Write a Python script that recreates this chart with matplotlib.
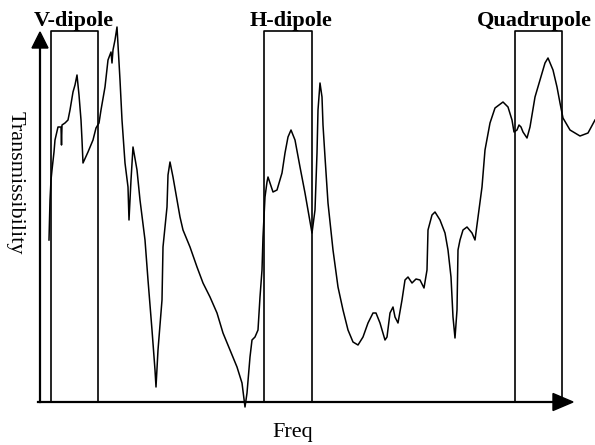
import matplotlib
matplotlib.use("Agg")
import matplotlib.pyplot as plt
import numpy as np

# traced response curve (arbitrary units)
freq = [9, 10, 11, 12, 14, 15, 18, 21, 21.5, 22, 25, 28, 30, 33, 35, 37, 39, 41, 42, 43,
        48, 53, 56, 59, 61, 65, 68, 71, 72, 73, 75, 77, 78, 80, 82, 85, 88, 89, 91, 93,
        97, 100, 105, 108, 112, 115, 116, 118, 122, 123, 127, 128, 130, 133, 140, 143,
        150, 157, 163, 170, 177, 183, 190, 197, 202, 205, 207, 210, 212, 215, 218, 220,
        222, 223, 225, 227, 228, 233, 237, 242, 245, 248, 251, 255, 260, 265, 268, 272,
        275, 277, 278, 280, 282, 283, 285, 288, 293, 298, 303, 308, 313, 318, 323, 328,
        333, 336, 340, 345, 347, 350, 353, 355, 358, 362, 365, 368, 372, 376, 380, 384,
        387, 388, 392, 395, 400, 405, 408, 411, 413, 415, 417, 418, 420, 423, 427, 432,
        435, 438, 442, 445, 450, 455, 463, 468, 472, 474, 477, 479, 481, 483, 487, 490,
        495, 500, 505, 508, 513, 517, 520, 523, 530, 540, 548, 555]
trans = [162, 202, 222, 232, 250, 262, 275, 275, 257, 277, 279, 282, 292, 310, 317, 327, 307, 282, 262, 239,
         250, 262, 274, 279, 292, 315, 342, 350, 339, 352, 362, 375, 357, 322, 282, 239, 215, 182, 222, 255,
         232, 202, 162, 122, 72, 32, 15, 52, 102, 155, 195, 227, 240, 225, 185, 172,
         155, 135, 119, 105, 89, 69, 52, 35, 19, -5, 9, 45, 62, 65, 72, 105,
         132, 165, 205, 220, 225, 210, 212, 229, 249, 265, 272, 262, 235, 209, 192, 169,
         192, 249, 292, 319, 305, 277, 245, 199, 152, 115, 92, 72, 60, 57, 65, 79,
         89, 89, 79, 62, 65, 89, 95, 85, 79, 102, 122, 125, 119, 123, 122, 114,
         132, 172, 187, 190, 182, 169, 152, 125, 85, 64, 92, 152, 162, 172, 175, 169,
         162, 185, 215, 252, 279, 294, 300, 295, 282, 270, 272, 277, 275, 270, 264, 275,
         305, 322, 339, 344, 332, 315, 299, 284, 272, 266, 269, 282]

# mode bands: (label, start, end)
bands = ["V-dipole", "H-dipole", "Quadrupole"]
band_lo = [11, 224, 475]
band_hi = [58, 272, 522]
label_x = [34, 251, 494]

x_max, y_max = 535, 372
serif = ["Liberation Serif", "DejaVu Serif"]

fig = plt.figure(figsize=(5.95, 4.45), dpi=100)
ax = fig.add_axes([40 / 595, 43 / 445, 535 / 595, 372 / 445])
ax.set_xlim(0, x_max)
ax.set_ylim(0, y_max)
ax.axis("off")

ax.plot(freq, trans, color="black", lw=1.1, clip_on=False, zorder=3)

for name, lo, hi, lx in zip(bands, band_lo, band_hi, label_x):
    ax.plot([lo, lo, hi, hi], [0, y_max - 1, y_max - 1, 0], color="black",
            lw=1.2, clip_on=False, zorder=2)
    ax.text(lx, 376, name, ha="center", va="baseline", fontsize=16,
            fontweight="bold", family=serif)

# axes with arrow heads
ax.plot([-2, 515], [0, 0], color="black", lw=1.6, clip_on=False)
ax.plot([0, 0], [0, 356], color="black", lw=1.6, clip_on=False)
ax.fill([513, 533, 513], [-8.5, 0, 8.5], color="black", clip_on=False)
ax.fill([-8, 0, 8], [354, 370, 354], color="black", clip_on=False)

ax.text(253, -35, "Freq", ha="center", va="baseline", fontsize=16, family=serif)
ax.text(-25, 219, "Transmissibility", ha="center", va="center", rotation=-90,
        fontsize=16, family=serif)

fig.savefig("out.png", dpi=100)
